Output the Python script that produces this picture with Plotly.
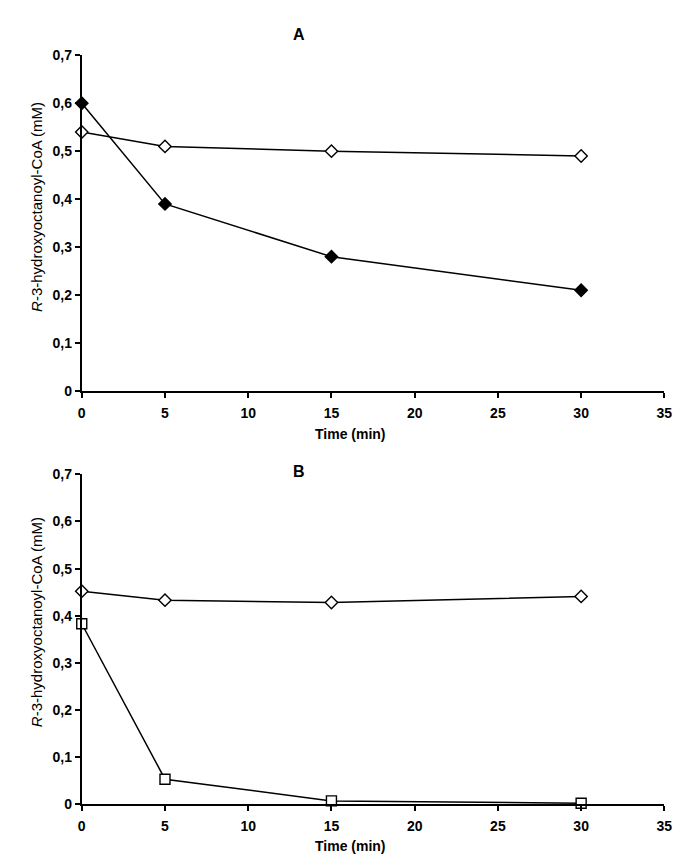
import plotly.graph_objects as go

# ---- data ----
time_min = [0, 5, 15, 30]
a_filled_diamond = [0.60, 0.39, 0.28, 0.21]
a_open_diamond = [0.54, 0.51, 0.50, 0.49]
b_open_diamond = [0.452, 0.433, 0.428, 0.441]
b_open_square = [0.383, 0.053, 0.007, 0.002]

x_tick_vals = [0, 5, 10, 15, 20, 25, 30, 35]
x_tick_text = ["0", "5", "10", "15", "20", "25", "30", "35"]
y_tick_vals = [0, 0.1, 0.2, 0.3, 0.4, 0.5, 0.6, 0.7]
y_tick_text = ["0", "0,1", "0,2", "0,3", "0,4", "0,5", "0,6", "0,7"]

panel_labels = ["A", "B"]
x_title = "Time (min)"
y_title = "<i>R</i>-3-hydroxyoctanoyl-CoA (mM)"

W, H = 685, 867
def py(p):  # pixel from top -> paper y
    return 1 - p / H
def px(p):
    return p / W

FONT = "Liberation Sans, Arial, sans-serif"
line_style = dict(color="black", width=1.5)

fig = go.Figure()

def add(x, y, symbol, fill, xa, ya, size):
    fig.add_trace(go.Scatter(
        x=x, y=y, mode="lines+markers", xaxis=xa, yaxis=ya,
        line=line_style, cliponaxis=False, showlegend=False,
        marker=dict(symbol=symbol, size=size, color=fill,
                    line=dict(color="black", width=1.4)),
    ))

add(time_min, a_open_diamond, "diamond", "white", "x", "y", 9.5)
add(time_min, a_filled_diamond, "diamond", "black", "x", "y", 9.5)
add(time_min, b_open_diamond, "diamond", "white", "x2", "y2", 9.5)
add(time_min, b_open_square, "square", "white", "x2", "y2", 10)

xdom = [px(71), px(664)]
dom_a = [py(382), py(40)]
dom_b = [py(803), py(467)]

def xaxis(anchor):
    return dict(domain=xdom, range=[0, 35], anchor=anchor,
                tickvals=x_tick_vals, ticktext=x_tick_text,
                ticks="outside", ticklen=5, tickwidth=1.5, tickcolor="black",
                showline=True, linecolor="black", linewidth=2,
                showgrid=False, zeroline=False, ticklabelstandoff=3,
                tickfont=dict(family=FONT, size=14, color="black", weight="bold"))

def yaxis(anchor, dom):
    return dict(domain=dom, range=[0, 0.7], anchor=anchor,
                tickvals=y_tick_vals, ticktext=y_tick_text,
                ticks="outside", ticklen=5, tickwidth=1.5, tickcolor="black",
                showline=True, linecolor="black", linewidth=2,
                showgrid=False, zeroline=False,
                tickfont=dict(family=FONT, size=14, color="black", weight="bold"))

annotations = []
for lab, (lx, ly) in zip(panel_labels, [(292, 19), (292, 464)]):
    annotations.append(dict(text="<b>%s</b>" % lab, x=px(lx), y=py(ly), xref="paper", yref="paper",
                            showarrow=False, xanchor="center", yanchor="middle",
                            font=dict(family=FONT, size=16, color="black")))
for ty in [426, 846]:
    annotations.append(dict(text="<b>%s</b>" % x_title, x=px(345), y=py(ty), xref="paper", yref="paper",
                            showarrow=False, xanchor="center", yanchor="middle",
                            font=dict(family=FONT, size=14, color="black")))
for cy in [195, 618]:
    annotations.append(dict(text=y_title, x=px(25), y=py(cy), xref="paper", yref="paper",
                            showarrow=False, xanchor="center", yanchor="middle", textangle=-90,
                            font=dict(family=FONT, size=15, color="black")))

fig.update_layout(
    width=W, height=H, margin=dict(l=0, r=0, t=0, b=0),
    paper_bgcolor="white", plot_bgcolor="white",
    xaxis=xaxis("y"), yaxis=yaxis("x", dom_a),
    xaxis2=xaxis("y2"), yaxis2=yaxis("x2", dom_b),
    annotations=annotations,
)

fig.write_html("out.html")
